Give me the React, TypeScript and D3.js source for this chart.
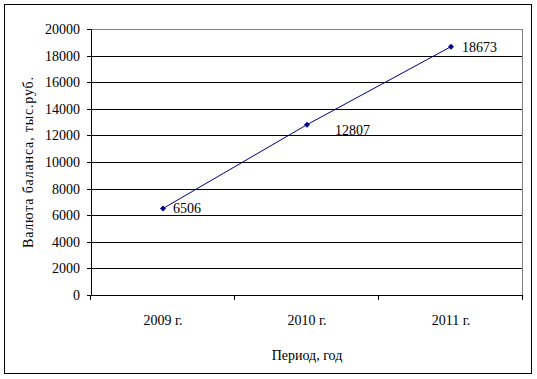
import React from "react";
import * as d3 from "d3";

const categories = ["2009 г.", "2010 г.", "2011 г."];
const values = [6506, 12807, 18673];
const yTicks = [0, 2000, 4000, 6000, 8000, 10000, 12000, 14000, 16000, 18000, 20000];
const labelOffsets = [[10, 0], [28, 5], [11, 0]];

export default function App() {
  const W = 537, H = 379;
  const left = 91, right = 523, top = 29, bottom = 295;
  const x = d3.scaleBand<string>().domain(categories).range([left, right]);
  const y = d3.scaleLinear().domain([0, 20000]).range([bottom, top]);
  const font = "'Liberation Serif', 'Times New Roman', serif";
  const line = d3.line<number>()
    .x((_, i) => x(categories[i])! + x.bandwidth() / 2)
    .y((d) => y(d));
  const diamond = d3.symbol().type(d3.symbolSquare).size(18)()!;
  return (
    <svg width={W} height={H} style={{ position: "absolute", left: 0, top: 0, fontFamily: font }}>
      <rect x={0} y={0} width={W} height={H} fill="#fff" />
      <rect x={4.5} y={4.5} width={527} height={369} fill="none" stroke="#000" strokeWidth={1} />
      {yTicks.map((t) => (
        <g key={t}>
          <line x1={left} x2={right} y1={Math.round(y(t)) + 0.5} y2={Math.round(y(t)) + 0.5}
            stroke={t === 20000 ? "#808080" : "#000"} />
          <line x1={left - 4} x2={left} y1={Math.round(y(t)) + 0.5} y2={Math.round(y(t)) + 0.5} stroke="#000" />
          <text x={80} y={y(t)} dy="0.35em" textAnchor="end" fontSize={14}>{t}</text>
        </g>
      ))}
      <line x1={right - 0.5} x2={right - 0.5} y1={top} y2={bottom} stroke="#808080" />
      <line x1={left + 0.5} x2={left + 0.5} y1={top} y2={bottom + 1} stroke="#000" />
      {[...categories.map((c) => x(c)!), right].map((px, i) => (
        <line key={i} x1={Math.round(px) - 0.5} x2={Math.round(px) - 0.5} y1={bottom} y2={bottom + 5} stroke="#000" />
      ))}
      {categories.map((c) => (
        <text key={c} x={x(c)! + x.bandwidth() / 2} y={325} textAnchor="middle" fontSize={14}>{c}</text>
      ))}
      <path d={line(values)!} fill="none" stroke="#000080" strokeWidth={1} />
      {values.map((v, i) => {
        const cx = x(categories[i])! + x.bandwidth() / 2;
        const cy = y(v);
        return (
          <g key={i}>
            <path d={diamond} transform={`translate(${cx},${cy}) rotate(45)`} fill="#000080" />
            <text x={cx + labelOffsets[i][0]} y={cy + labelOffsets[i][1]} dy="0.35em" fontSize={14}>{v}</text>
          </g>
        );
      })}
      <text x={307} y={360} textAnchor="middle" fontSize={14}>Период, год</text>
      <text transform="translate(33,162.5) rotate(-90)" textAnchor="middle" fontSize={14}
        textLength={171} lengthAdjust="spacing">Валюта баланса, тыс.руб.</text>
    </svg>
  );
}
